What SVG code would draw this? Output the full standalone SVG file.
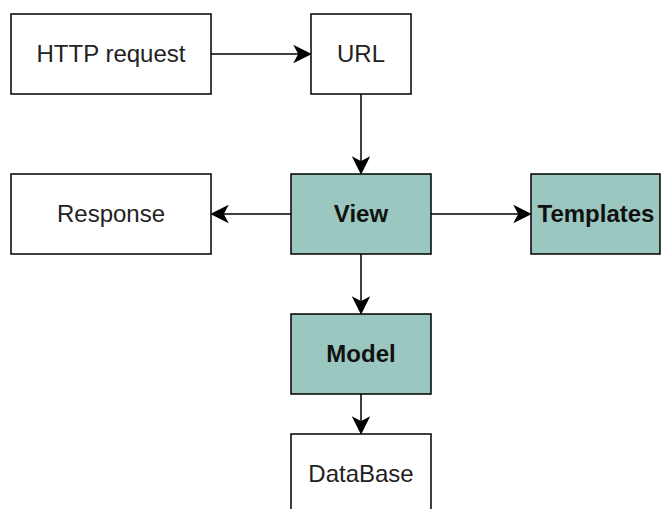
<svg xmlns="http://www.w3.org/2000/svg" width="661" height="509" viewBox="0 0 661 509">
<style>
.box{fill:#ffffff;stroke:#000000;stroke-width:1.5}
.hl{fill:#9AC7BF;stroke:#000000;stroke-width:1.5}
.t{font-family:"Liberation Sans",Arial,sans-serif;font-size:24px;fill:#222222;text-anchor:middle}
.b{font-weight:bold;fill:#111111}
.ln{stroke:#000000;stroke-width:1.5;fill:none}
.ah{fill:#000000;stroke:#000000;stroke-width:1.5;stroke-linejoin:miter}
</style>
<rect width="661" height="509" fill="#ffffff"/>
<g id="connectors">
  <line class="ln" x1="211" y1="54" x2="300" y2="54"/>
  <path class="ah" d="M310,54 L295,61.5 L299,54 L295,46.5 Z"/>
  <line class="ln" x1="361" y1="94" x2="361" y2="163"/>
  <path class="ah" d="M361,173 L353.5,158 L361,162 L368.5,158 Z"/>
  <line class="ln" x1="291" y1="214" x2="222" y2="214"/>
  <path class="ah" d="M212,214 L227,206.5 L223,214 L227,221.5 Z"/>
  <line class="ln" x1="431" y1="214" x2="520" y2="214"/>
  <path class="ah" d="M530,214 L515,221.5 L519,214 L515,206.5 Z"/>
  <line class="ln" x1="361" y1="254" x2="361" y2="303"/>
  <path class="ah" d="M361,313 L353.5,298 L361,302 L368.5,298 Z"/>
  <line class="ln" x1="361" y1="394" x2="361" y2="423"/>
  <path class="ah" d="M361,433 L353.5,418 L361,422 L368.5,418 Z"/>
</g>
<g id="http">
  <rect class="box" x="11" y="14" width="200" height="80"/>
  <text class="t" x="111" y="62">HTTP request</text>
</g>
<g id="url">
  <rect class="box" x="311" y="14" width="100" height="80"/>
  <text class="t" x="361" y="62">URL</text>
</g>
<g id="response">
  <rect class="box" x="11" y="174" width="200" height="80"/>
  <text class="t" x="111" y="222">Response</text>
</g>
<g id="view">
  <rect class="hl" x="291" y="174" width="140" height="80"/>
  <text class="t b" x="361" y="222">View</text>
</g>
<g id="templates">
  <rect class="hl" x="531" y="174" width="129" height="80"/>
  <text class="t b" x="596" y="222">Templates</text>
</g>
<g id="model">
  <rect class="hl" x="291" y="314" width="140" height="80"/>
  <text class="t b" x="361" y="362">Model</text>
</g>
<g id="database">
  <rect class="box" x="291" y="434" width="140" height="80"/>
  <text class="t" x="361" y="482">DataBase</text>
</g>
</svg>
